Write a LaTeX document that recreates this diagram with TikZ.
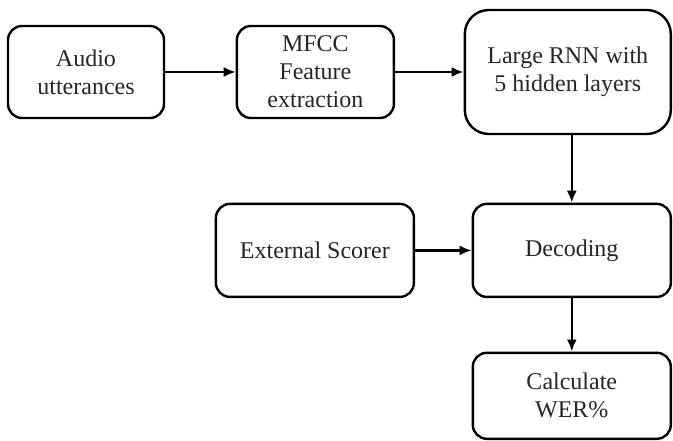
\documentclass[tikz,border=0pt]{standalone}
\usepackage{fontspec}
\setmainfont{Liberation Serif}
\usetikzlibrary{arrows.meta, positioning}

\begin{document}
\begin{tikzpicture}[
    >={Latex[length=12pt, width=10pt]},
    block/.style={rectangle, draw, rounded corners=14pt, line width=2.4pt,
        align=center, inner sep=0pt, text=black!85,
        font=\fontsize{24}{28}\selectfont,
        minimum width = 156pt, minimum height = 92pt},
    flow/.style={->, line width=2.6pt}
]

    \useasboundingbox (0,0) rectangle (673pt,-441pt);

    % Nodes ------------------------------------------------------

    \node[block] (audio) at (86pt,-72pt) {Audio\\utterances};
    \node[block, right=70.5pt of audio, minimum width=157pt] (mfcc) {MFCC\\Feature\\extraction};
    \node[block, right=68.5pt of mfcc, minimum width=206pt, minimum height=124pt,
        rounded corners=24pt] (rnn) {Large RNN with\\5 hidden layers};
    \node[block, below=67.5pt of rnn.south east, anchor=north east,
        minimum width=198pt, minimum height=93pt] (decode) {Decoding};
    \node[block, left=56.5pt of decode, minimum width=198pt, minimum height=93pt] (scorer) {External Scorer};
    \node[block, below=53.5pt of decode, minimum width=198pt, minimum height=86pt] (wer) {Calculate\\WER\%};

    % Arrows ---------------------------------------------------

    \draw [flow] (audio) -- (mfcc);
    \draw [flow] (mfcc) -- (rnn.west |- mfcc);
    \draw [flow] (decode.north |- rnn.south) -- (decode.north);
    \draw [flow] (scorer) -- (decode);
    \draw [flow] (decode) -- (wer);

\end{tikzpicture}
\end{document}
